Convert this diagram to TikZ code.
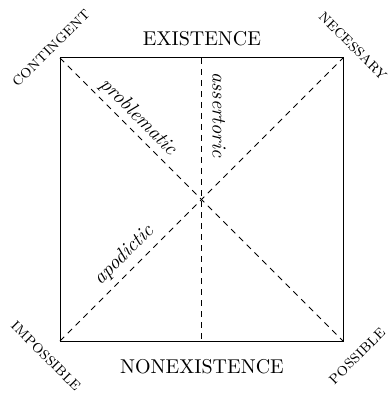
\documentclass[tikz,border=0pt]{standalone}
\begin{document}
\begin{tikzpicture}[x=0.5pt,y=-0.5pt,
  frame/.style={line width=0.5pt},
  dashline/.style={line width=0.4pt,dash pattern=on 3pt off 2.5pt},
  corner/.style={font=\small\scshape,inner sep=0pt},
  side/.style={font=\rmfamily,inner sep=0pt},
  mode/.style={font=\itshape,inner sep=0pt}]
\useasboundingbox (0,0) rectangle (390,395);
\coordinate (tl) at (60,58);
\coordinate (tr) at (343,58);
\coordinate (bl) at (60,341);
\coordinate (br) at (343,341);
\coordinate (tm) at (201.5,58);
\coordinate (bm) at (201.5,341);
\draw[frame] (tl) -- (tr) -- (br) -- (bl) -- cycle;
\draw[dashline] (tl) -- (br);
\draw[dashline] (bl) -- (tr);
\draw[dashline] (tm) -- (bm);
\node[side] (ex) at (202,39) {EXISTENCE};
\node[side] (nex) at (202,367) {NONEXISTENCE};
\node[corner,rotate=45] (cont) at (51,48) {contingent};
\node[corner,rotate=-45] (nec) at (353,46) {necessary};
\node[corner,rotate=-45] (imp) at (46,356) {impossible};
\node[corner,rotate=45] (pos) at (357,356) {possible};
\node[mode,rotate=-45] (prob) at (138,117) {problematic};
\node[mode,rotate=-90] (ass) at (219,115) {assertoric};
\node[mode,rotate=45] (apo) at (124,255) {apodictic};
\end{tikzpicture}
\end{document}
